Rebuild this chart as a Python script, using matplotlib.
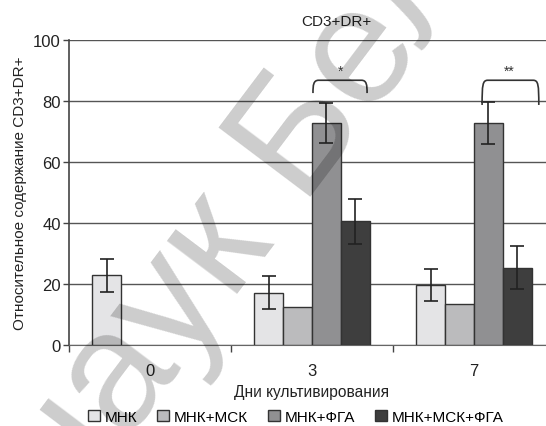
import numpy as np
import matplotlib as mpl
import matplotlib.pyplot as plt
from matplotlib.path import Path
from matplotlib.patches import PathPatch, Patch

mpl.rcParams["font.family"] = ["Liberation Sans", "DejaVu Sans"]

# данные
days = ["0", "3", "7"]
groups = ["МНК", "МНК+МСК", "МНК+ФГА", "МНК+МСК+ФГА"]
vals_mnk = [22.8, 17.2, 19.6]
vals_mnk_msk = [np.nan, 12.6, 13.3]
vals_mnk_fga = [np.nan, 72.8, 72.8]
vals_mnk_msk_fga = [np.nan, 40.5, 25.4]
err_mnk = [5.5, 5.3, 5.2]
err_mnk_msk = [np.nan, np.nan, np.nan]
err_mnk_fga = [np.nan, 6.6, 7.0]
err_mnk_msk_fga = [np.nan, 7.3, 7.0]

values = [vals_mnk, vals_mnk_msk, vals_mnk_fga, vals_mnk_msk_fga]
errors = [err_mnk, err_mnk_msk, err_mnk_fga, err_mnk_msk_fga]
colors = ["#e4e4e6", "#bbbbbd", "#909092", "#3e3e3e"]

W, H = 546, 427
fig = plt.figure(figsize=(W / 100, H / 100), dpi=100)
ax = fig.add_axes([69 / W, 1 - 346 / H, 486 / W, 305 / H])

x = np.arange(len(days))
bw = 0.179
for i, (v, e, c) in enumerate(zip(values, errors, colors)):
    pos = x + (i - 1.5) * bw
    ax.bar(pos, v, width=bw, color=c, edgecolor="#333333", linewidth=1.0, zorder=3)
    ax.errorbar(pos, v, yerr=e, fmt="none", ecolor="#222222", elinewidth=1.2,
                capsize=5, capthick=1.2, zorder=4)

ax.set_xlim(-0.5, 2.5)
ax.set_ylim(0, 100)
ax.set_yticks(np.arange(0, 101, 20))
ax.set_xticks(x)
ax.set_xticklabels(days)
ax.set_xticks([-0.5, 0.5, 1.5, 2.5], minor=True)
ax.tick_params(axis="x", which="major", length=0, pad=13, labelsize=12, colors="#222222")
ax.tick_params(axis="x", which="minor", length=5, width=1, color="#444444")
ax.tick_params(axis="y", length=4, width=1, pad=2, labelsize=12, color="#444444", labelcolor="#222222")
ax.grid(axis="y", color="#555555", linewidth=1.0, zorder=0)
ax.set_axisbelow(True)
for s in ["top", "right"]:
    ax.spines[s].set_visible(False)
ax.spines["left"].set_color("#444444")
ax.spines["bottom"].set_color("#666666")
ax.spines["left"].set_linewidth(1.2)

ax.set_ylabel("Относительное содержание CD3+DR+", fontsize=11, color="#222222")
ax.yaxis.set_label_coords(-0.086, 0.5)
ax.set_xlabel("Дни культивирования", fontsize=11.2, color="#222222", labelpad=4)

fig.text(336 / W, 1 - 22 / H, "CD3+DR+", ha="center", va="center", fontsize=11, color="#222222")


def bracket(x0, x1, ytop, yl, yr):
    r = 0.035
    verts = [(x0, yl), (x0, ytop - 1.5), (x0 + 0.003, ytop), (x0 + r, ytop),
             (x1 - r, ytop), (x1 - 0.003, ytop), (x1, ytop - 1.5), (x1, yr)]
    codes = [Path.MOVETO, Path.CURVE4, Path.CURVE4, Path.CURVE4,
             Path.LINETO, Path.CURVE4, Path.CURVE4, Path.CURVE4]
    ax.add_patch(PathPatch(Path(verts, codes), fill=False, edgecolor="#333333",
                           linewidth=1.2, zorder=5, clip_on=False))


bracket(1.006, 1.340, 86.8, 82.6, 82.6)
bracket(2.05, 2.40, 86.8, 78.7, 78.7)
ax.text(1.173, 90.0, "*", ha="center", va="center", fontsize=10, color="#333333")
ax.text(2.22, 90.0, "**", ha="center", va="center", fontsize=10, color="#333333")

handles = [Patch(facecolor=c, edgecolor="#333333", linewidth=1.0) for c in colors]
fig.legend(handles, groups, loc="center", bbox_to_anchor=(296 / W, 1 - 418 / H), ncol=4,
           frameon=False, fontsize=11, handlelength=0.75, handleheight=0.75,
           handletextpad=0.35, columnspacing=1.3, borderaxespad=0)

# водяной знак
fig.text(71 / W, 1 - 515 / H, "наук Беларуси", rotation=53, rotation_mode="anchor",
         ha="left", va="baseline", fontsize=120, color="black", alpha=0.2,
         zorder=10)

fig.savefig("out.png", dpi=100)
